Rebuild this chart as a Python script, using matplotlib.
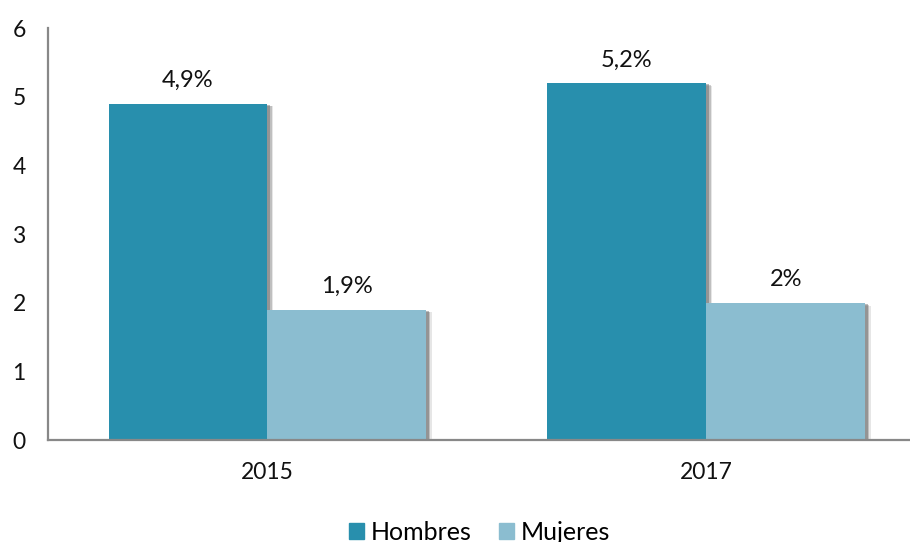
import matplotlib.pyplot as plt
import matplotlib.patheffects as pe
import numpy as np

years = ["2015", "2017"]
hombres = [4.9, 5.2]
mujeres = [1.9, 2.0]
hombres_labels = ["4,9%", "5,2%"]
mujeres_labels = ["1,9%", "2%"]

DARK = "#288FAD"
LIGHT = "#8BBDD0"
AXIS = "#888888"

plt.rcParams["font.family"] = ["Lato", "DejaVu Sans"]

fig = plt.figure(figsize=(9.1, 5.42), dpi=100)
ax = fig.add_axes([0.0527, 0.188, 0.9473, 0.760])

x = np.arange(len(years))
w = 0.362
# soft drop shadow, built from a few offset layers
shadow = [
    pe.SimplePatchShadow(offset=(4, -2), shadow_rgbFace="#777777", alpha=0.18),
    pe.SimplePatchShadow(offset=(3, -1.5), shadow_rgbFace="#666666", alpha=0.3),
    pe.SimplePatchShadow(offset=(2, -1), shadow_rgbFace="#555555", alpha=0.4),
    pe.Normal(),
]

b1 = ax.bar(x - w / 2, hombres, w, color=DARK, label="Hombres", zorder=3)
b2 = ax.bar(x + w / 2, mujeres, w, color=LIGHT, label="Mujeres", zorder=3)
for bars in (b1, b2):
    for p in bars:
        p.set_path_effects(shadow)

for bars, labels in ((b1, hombres_labels), (b2, mujeres_labels)):
    for p, lab in zip(bars, labels):
        ax.annotate(lab, (p.get_x() + p.get_width() / 2, p.get_height()),
                    xytext=(0, 9), textcoords="offset points",
                    ha="center", va="bottom", fontsize=17, color="#111111")

ax.set_xlim(-0.5, 1.464)
ax.set_ylim(0, 6)
ax.set_yticks(range(0, 7))
ax.set_xticks(x)
ax.set_xticklabels(years)
ax.tick_params(axis="both", length=0, labelsize=16.5, colors="#111111")
ax.tick_params(axis="y", pad=16)
ax.tick_params(axis="x", pad=16)

for s in ("top", "right"):
    ax.spines[s].set_visible(False)
for s in ("left", "bottom"):
    ax.spines[s].set_color(AXIS)
    ax.spines[s].set_linewidth(1.6)
ax.spines["bottom"].set_zorder(4)

handles = [plt.Rectangle((0, 0), 1, 1, color=DARK), plt.Rectangle((0, 0), 1, 1, color=LIGHT)]
fig.legend(handles, ["Hombres", "Mujeres"], loc="center", bbox_to_anchor=(0.527, 0.018),
           ncol=2, frameon=False, fontsize=18, handlelength=0.6, handleheight=0.6,
           handletextpad=0.25, columnspacing=1.1)

fig.savefig("out.png", dpi=100)
